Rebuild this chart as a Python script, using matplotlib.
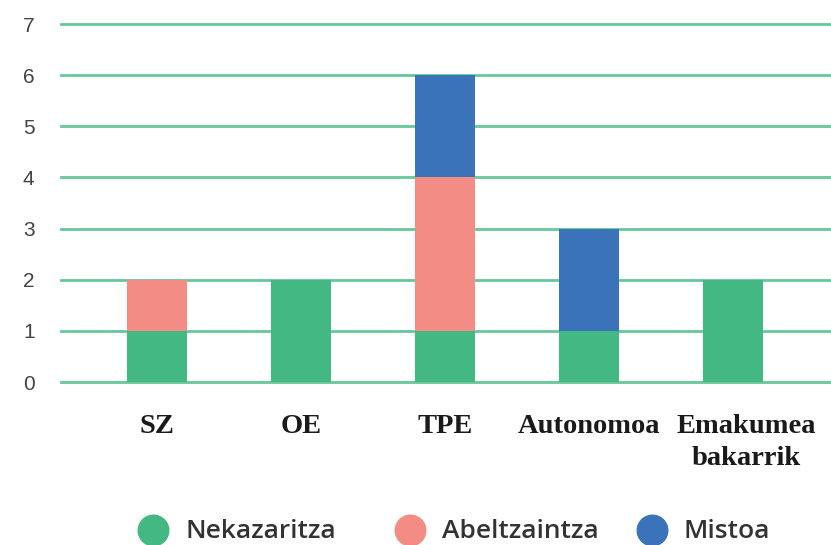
import matplotlib
matplotlib.use("Agg")
import matplotlib.pyplot as plt
import matplotlib.transforms as mtransforms
import numpy as np
from matplotlib.lines import Line2D

# Data
categories = ["SZ", "OE", "TPE", "Autonomoa", "Emakumea\nbakarrik"]
nekazaritza = [1, 2, 1, 1, 2]
abeltzaintza = [1, 0, 3, 0, 0]
mistoa = [0, 0, 2, 2, 0]
series_names = ["Nekazaritza", "Abeltzaintza", "Mistoa"]
colors = ["#43b883", "#f28c84", "#3a73b9"]

fig = plt.figure(figsize=(8.31, 5.45), dpi=100)
ax = fig.add_axes([61/831, 1-382/545, 1-61/831, (382-24)/545])

x = np.arange(len(categories))
w = 0.42
bottom = np.zeros(len(categories))
for vals, c in zip([nekazaritza, abeltzaintza, mistoa], colors):
    ax.bar(x, vals, w, bottom=bottom, color=c, zorder=3)
    bottom += np.array(vals)

ax.set_xlim(-0.667, 4.68)
ax.set_ylim(0, 7)
ax.set_yticks(range(0, 8))
for yv in range(0, 8):
    ax.axhline(yv, color="#66c79b", lw=2, zorder=1, clip_on=False)
for s in ax.spines.values():
    s.set_visible(False)
ax.tick_params(axis="y", length=0, pad=19, labelsize=15, labelcolor="#444444")
ax.tick_params(axis="x", length=0, pad=23)
ax.set_xticks(x)
ax.set_xticklabels(categories, fontfamily="Liberation Serif", fontweight="bold",
                   fontsize=20.5, color="#1a1a1a", linespacing=1.35)
for lab in ax.get_yticklabels():
    lab.set_fontfamily("Liberation Sans")
# last label sits a bit right of its bar
last = ax.get_xticklabels()[-1]
last.set_transform(last.get_transform() + mtransforms.ScaledTranslation(13/100, 0, fig.dpi_scale_trans))

# legend, drawn by hand
leg_x = [153, 410, 652]
for name, c, px in zip(series_names, colors, leg_x):
    fig.add_artist(Line2D([px/831], [1-530/545], marker="o", markersize=22, ls="",
                          color=c, transform=fig.transFigure))
    fig.text((px+32)/831, 1-532/545, name, va="center", ha="left",
             fontfamily="Open Sans", fontweight="semibold", fontsize=19, color="#333333")

fig.savefig("out.png", dpi=100)
